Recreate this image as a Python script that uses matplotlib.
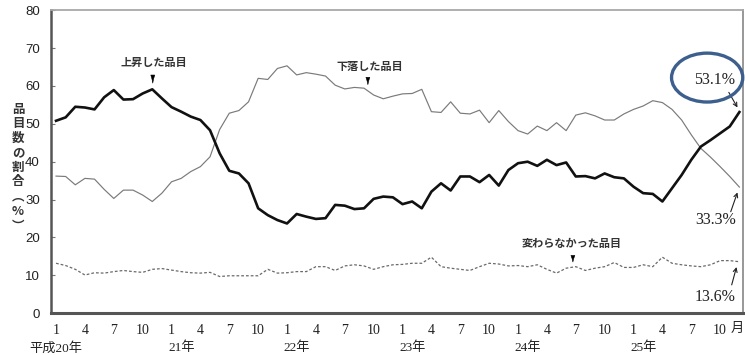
import matplotlib

matplotlib.use("Agg")
import matplotlib.pyplot as plt
from matplotlib.patches import Ellipse

plt.rcParams["font.family"] = ["Liberation Serif", "Noto Sans CJK JP"]

# Monthly share of items (%) from 平成20年1月 to 平成25年12月
rose = [
    50.8, 51.7, 54.5, 54.3, 53.8, 57.0, 58.9, 56.4, 56.5, 58.0, 59.1, 56.7,
    54.4, 53.2, 51.9, 51.0, 48.3, 42.2, 37.6, 36.9, 34.3, 27.7, 25.9, 24.6,
    23.7, 26.2, 25.5, 24.9, 25.1, 28.6, 28.4, 27.5, 27.7, 30.2, 30.8, 30.6,
    28.8, 29.5, 27.7, 32.1, 34.3, 32.4, 36.1, 36.1, 34.6, 36.5, 33.7, 37.8,
    39.6, 40.0, 38.9, 40.5, 39.1, 39.8, 36.1, 36.2, 35.6, 36.9, 35.9, 35.6,
    33.4, 31.7, 31.5, 29.5, 33.0, 36.5, 40.5, 44.0, 45.7, 47.5, 49.3, 53.1,
]
fell = [
    36.2, 36.1, 33.9, 35.6, 35.4, 32.7, 30.3, 32.5, 32.5, 31.2, 29.5, 31.7,
    34.7, 35.6, 37.4, 38.7, 41.3, 48.5, 52.8, 53.5, 55.8, 62.0, 61.7, 64.6,
    65.3, 62.9, 63.5, 63.1, 62.6, 60.2, 59.2, 59.6, 59.4, 57.6, 56.6, 57.3,
    57.9, 58.0, 59.1, 53.2, 53.0, 55.8, 52.8, 52.6, 53.6, 50.3, 53.5, 50.6,
    48.2, 47.3, 49.4, 48.2, 50.3, 48.2, 52.3, 52.9, 52.1, 51.0, 51.0, 52.6,
    53.8, 54.7, 56.1, 55.6, 53.8, 51.0, 47.1, 43.5, 41.2, 38.7, 36.1, 33.3,
]
unchanged = [
    13.2, 12.6, 11.6, 10.1, 10.7, 10.6, 11.0, 11.3, 11.0, 10.8, 11.6, 11.8,
    11.4, 11.0, 10.7, 10.6, 10.8, 9.7, 9.9, 9.9, 9.9, 9.9, 11.6, 10.6,
    10.7, 11.0, 11.0, 12.3, 12.3, 11.3, 12.5, 12.8, 12.5, 11.6, 12.3, 12.8,
    12.9, 13.2, 13.2, 14.8, 12.3, 11.9, 11.6, 11.3, 12.3, 13.2, 13.0, 12.5,
    12.6, 12.3, 12.8, 11.6, 10.6, 11.9, 12.3, 11.3, 11.9, 12.3, 13.4, 12.1,
    12.1, 12.8, 12.3, 14.8, 13.2, 12.8, 12.5, 12.3, 12.8, 13.9, 13.9, 13.6,
]
month_labels = ["1", "4", "7", "10"]
year_labels = ["平成20年", "21年", "22年", "23年", "24年", "25年"]
y_title = ["品", "目", "数", "の", "割", "合", "︵", "%", "︶"]

months = list(range(len(rose)))

fig = plt.figure(figsize=(7.45, 3.55), dpi=100)
ax = fig.add_axes([0.0685, 0.1175, 0.9285, 0.854])

ax.plot(months, rose, color="#111111", lw=1.9, solid_joinstyle="round", zorder=3)
ax.plot(months, fell, color="#7a7a7a", lw=0.85, zorder=2)
ax.plot(months, unchanged, color="#6a6a6a", lw=0.9, linestyle=(0, (2.2, 1.6)), zorder=2)

# Axes
ax.set_xlim(-0.52, 71.35)
ax.set_ylim(0, 80)
ax.set_yticks(range(0, 81, 10))
ax.tick_params(axis="y", direction="in", length=3, color="#777777", pad=8,
               labelsize=9.5, labelcolor="#222222")
for lab in ax.get_yticklabels():
    lab.set_family("Liberation Sans")
tick_pos = list(range(0, len(rose), 3))
ax.set_xticks(tick_pos)
ax.set_xticklabels([month_labels[k % 4] for k in range(len(tick_pos))],
                   fontsize=10, color="#222222")
ax.tick_params(axis="x", length=0, pad=8)

ax.spines["left"].set_color("#555555")
ax.spines["left"].set_linewidth(1.8)
ax.spines["bottom"].set_color("#555555")
ax.spines["bottom"].set_linewidth(2.2)
ax.spines["top"].set_color("#a8a8a8")
ax.spines["top"].set_linewidth(1.3)
ax.spines["right"].set_color("#909090")
ax.spines["right"].set_linewidth(1.3)

# Year labels under the January ticks, and the month unit at the end
for k, label in enumerate(year_labels):
    if k == 0:
        ax.text(0, -0.115, label, transform=ax.get_xaxis_transform(),
                ha="center", va="center", fontsize=9.5, color="#222222")
    else:
        ax.text(12 * k - 0.35, -0.115, label, transform=ax.get_xaxis_transform(),
                ha="left", va="center", fontsize=9.5, color="#222222")
fig.text(744 / 745, 1 - 329 / 355, "月", ha="right", va="center",
         fontsize=9.5, color="#222222")

# Vertical axis title, one character per row
for k, ch in enumerate(y_title):
    fig.text(18 / 745, 1 - (109 + 14.6 * k) / 355, ch, ha="center", va="center",
             fontsize=9, fontweight="bold", color="#333333",
             family=["Noto Sans CJK JP"])

# Series labels with small pointers
label_font = dict(fontsize=8, fontweight="bold", color="#333333",
                  family=["Noto Sans CJK JP"], ha="center", va="center")
wedge = dict(arrowstyle="wedge,tail_width=0.28,shrink_factor=0.4",
             color="black", lw=0.4)
ax.text(10.2, 66.2, "上昇した品目", **label_font)
ax.annotate("", xy=(10.05, 60.0), xytext=(10.05, 63.6), arrowprops=wedge)
ax.text(32.6, 65.0, "下落した品目", **label_font)
ax.annotate("", xy=(32.4, 59.6), xytext=(32.4, 63.0), arrowprops=wedge)
ax.text(53.6, 18.5, "変わらなかった品目", **label_font)
ax.annotate("", xy=(53.7, 12.8), xytext=(53.7, 16.0), arrowprops=wedge)

# Latest values
value_font = dict(ha="center", va="center", fontsize=11.5, color="#222222")
thin_arrow = dict(arrowstyle="->", color="#222222", lw=0.8,
                  mutation_scale=7, shrinkA=0, shrinkB=0)
ax.add_patch(Ellipse((67.65, 62.2), 7.4, 12.9, fill=False,
                     edgecolor="#3d5f8e", lw=2.4, clip_on=False, zorder=4))
ax.text(68.4, 61.6, f"{rose[-1]:.1f}%", **value_font)
ax.annotate("", xy=(70.8, rose[-1] + 1.2), xytext=(69.9, 58.3), arrowprops=thin_arrow)

ax.text(68.5, 24.5, f"{fell[-1]:.1f}%", **value_font)
ax.annotate("", xy=(70.8, fell[-1] - 1.4), xytext=(70.1, 26.8), arrowprops=thin_arrow)

ax.text(68.5, 4.3, f"{unchanged[-1]:.1f}%", **value_font)
ax.annotate("", xy=(70.7, unchanged[-1] - 1.4), xytext=(70.2, 7.5), arrowprops=thin_arrow)

fig.savefig("out.png", dpi=100)
